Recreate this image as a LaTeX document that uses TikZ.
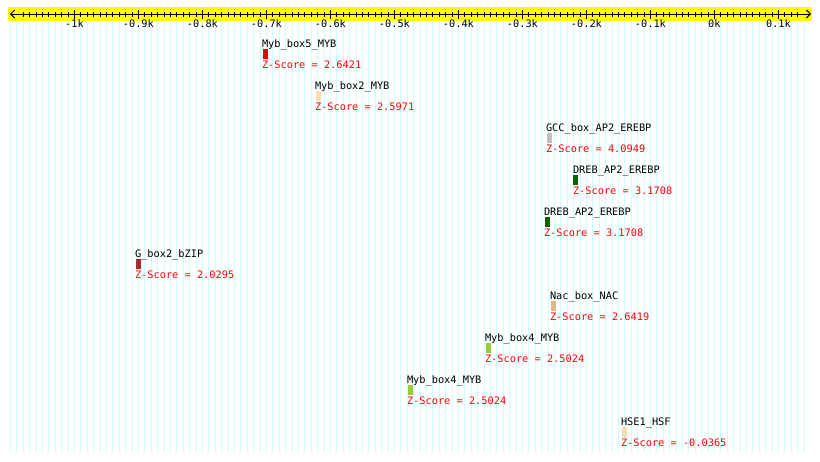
\documentclass[tikz,border=0pt]{standalone}
\usepackage{fontspec}
\newfontfamily\monofnt{DejaVu Sans Mono}
\usetikzlibrary{arrows.meta}
\definecolor{gridc}{RGB}{204,255,255}
\definecolor{axisyel}{RGB}{255,255,0}
\definecolor{zred}{RGB}{255,0,0}
\definecolor{cred}{RGB}{230,0,0}
\definecolor{cpeach}{RGB}{255,222,173}
\definecolor{cgray}{RGB}{192,192,192}
\definecolor{cdgreen}{RGB}{0,100,0}
\definecolor{cbrown}{RGB}{165,42,42}
\definecolor{cburly}{RGB}{222,184,135}
\definecolor{cygreen}{RGB}{154,205,50}
\definecolor{cwheat}{RGB}{245,222,179}
\begin{document}
\begin{tikzpicture}[x=1pt,y=-1pt,
  lbl/.style={anchor=base west,inner sep=0pt,outer sep=0pt,font=\monofnt\fontsize{10.3}{12}\selectfont},
  zs/.style={lbl,text=zred},
  bx/.style={anchor=north west,inner sep=0pt,outer sep=0pt,minimum width=5pt,minimum height=10pt,draw=none,fill=#1},
  ticklbl/.style={anchor=base,inner sep=0pt,font=\monofnt\fontsize{10.3}{12}\selectfont},
  gridline/.style={draw=gridc,line width=0.8pt},
  tickline/.style={draw=black,line width=1pt}
  ]
\useasboundingbox (0,0) rectangle (820,461);
\fill[white] (0,0) rectangle (820,461);
% grid
\foreach \i in {0,...,124}
  \draw[gridline] ({10.4+6.4*\i},22) -- ({10.4+6.4*\i},452);
% axis band
\fill[axisyel] (8,7) rectangle (812,21);
\coordinate (axL) at (10,14);
\coordinate (axR) at (811,14);
\draw[tickline,{Straight Barb[length=4pt,width=8pt]}-{Straight Barb[length=4pt,width=8pt]}] (axL) -- (axR);
\foreach \i in {2,...,123}
  \draw[tickline] ({10.4+6.4*\i},12) -- ({10.4+6.4*\i},17);
\foreach \i/\t [count=\k] in {10/-1k,20/-0.9k,30/-0.8k,40/-0.7k,50/-0.6k,60/-0.5k,70/-0.4k,80/-0.3k,90/-0.2k,100/-0.1k,110/0k,120/0.1k}{
  \draw[tickline] ({10.4+6.4*\i},10) -- ({10.4+6.4*\i},19);
  \node[ticklbl] (t\k) at ({10.4+6.4*\i},27) {\t};
}
% features
\node[lbl] (l0) at (262,47) {Myb\_box5\_MYB};
\node[bx=cred] (b0) at (263,49) {};
\node[zs] (z0) at (262,68) {Z-Score = 2.6421};

\node[lbl] (l1) at (315,89) {Myb\_box2\_MYB};
\node[bx=cpeach] (b1) at (316,91) {};
\node[zs] (z1) at (315,110) {Z-Score = 2.5971};

\node[lbl] (l2) at (546,131) {GCC\_box\_AP2\_EREBP};
\node[bx=cgray] (b2) at (547,133) {};
\node[zs] (z2) at (546,152) {Z-Score = 4.0949};

\node[lbl] (l3) at (573,173) {DREB\_AP2\_EREBP};
\node[bx=cdgreen] (b3) at (573,175) {};
\node[zs] (z3) at (573,194) {Z-Score = 3.1708};

\node[lbl] (l4) at (544,215) {DREB\_AP2\_EREBP};
\node[bx=cdgreen] (b4) at (545,217) {};
\node[zs] (z4) at (544,236) {Z-Score = 3.1708};

\node[lbl] (l5) at (135,257) {G\_box2\_bZIP};
\node[bx=cbrown] (b5) at (136,259) {};
\node[zs] (z5) at (135,278) {Z-Score = 2.0295};

\node[lbl] (l6) at (550,299) {Nac\_box\_NAC};
\node[bx=cburly] (b6) at (551,301) {};
\node[zs] (z6) at (550,320) {Z-Score = 2.6419};

\node[lbl] (l7) at (485,341) {Myb\_box4\_MYB};
\node[bx=cygreen] (b7) at (486,343) {};
\node[zs] (z7) at (485,362) {Z-Score = 2.5024};

\node[lbl] (l8) at (407,383) {Myb\_box4\_MYB};
\node[bx=cygreen] (b8) at (408,385) {};
\node[zs] (z8) at (407,404) {Z-Score = 2.5024};

\node[lbl] (l9) at (621,425) {HSE1\_HSF};
\node[bx=cwheat] (b9) at (622,427) {};
\node[zs] (z9) at (621,446) {Z-Score = -0.0365};
\end{tikzpicture}
\end{document}
